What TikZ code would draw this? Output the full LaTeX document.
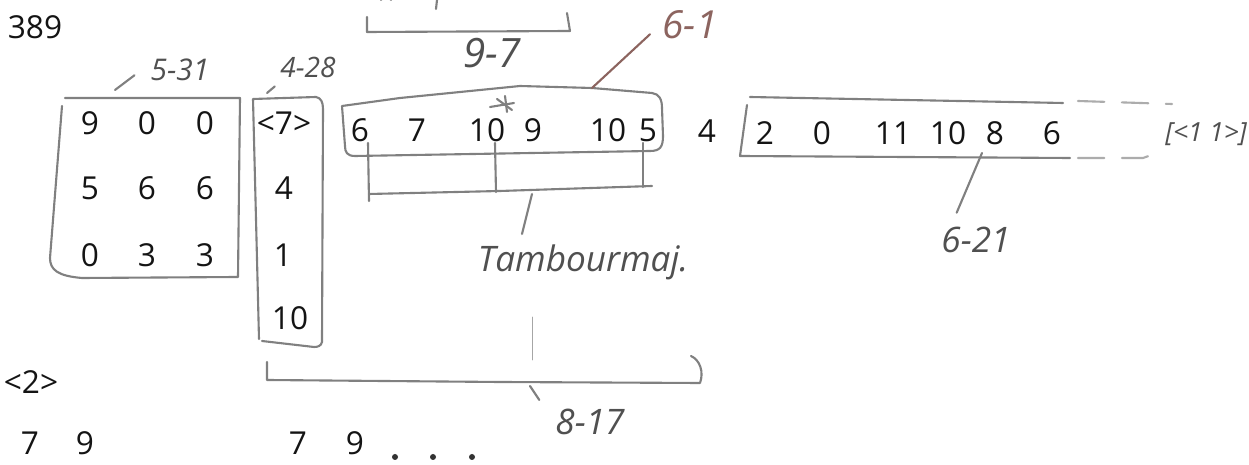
\documentclass[tikz,border=0pt]{standalone}
\usepackage{fontspec}
\setmainfont{Open Sans}
\definecolor{pencil}{RGB}{128,128,128}
\definecolor{lead}{RGB}{80,80,80}
\definecolor{rust}{RGB}{140,100,95}

\begin{document}
\begin{tikzpicture}[x=0.02cm, y=-0.02cm,
  typed/.style={font=\fontsize{18}{20}\selectfont, text=black!92, inner sep=0pt},
  hand/.style={font=\fontsize{20}{24}\selectfont\itshape, text=lead, inner sep=1pt},
  pencil/.style={draw=pencil, line width=1.2pt, line cap=round, line join=round}]
  % page area
  \useasboundingbox (0,0) rectangle (1249,465);
  \fill[white] (0,0) rectangle (1249,465);

  % page number
  \node[typed] (page) at (35,27) {389};

  % matrix box (5-31)
  \node[typed] (m11) at (90,123) {9};
  \node[typed] (m12) at (147,123) {0};
  \node[typed] (m13) at (205,123) {0};
  \node[typed] (m21) at (90,188) {5};
  \node[typed] (m22) at (147,188) {6};
  \node[typed] (m23) at (205,188) {6};
  \node[typed] (m31) at (90,255) {0};
  \node[typed] (m32) at (147,255) {3};
  \node[typed] (m33) at (205,255) {3};
  \draw[pencil] (65,98) -- (240,98) -- (238,277) -- (82,278)
    .. controls (58,276) and (50,270) .. (50,258) -- (62,106);

  % column box (4-28)
  \node[typed] (c1) at (284,123) {<7>};
  \node[typed] (c2) at (284,188) {4};
  \node[typed] (c3) at (283,255) {1};
  \node[typed] (c4) at (290,318) {10};
  \draw[pencil] (259,339) -- (253,99) -- (316,97)
    .. controls (321,98) and (323,102) .. (323,109) -- (322,342)
    .. controls (321,346) and (318,347) .. (314,347) -- (262,341);

  % row box (6-1)
  \node[typed] (r1) at (360,130) {6};
  \node[typed] (r2) at (417,130) {7};
  \node[typed] (r3) at (487,130) {10};
  \node[typed] (r4) at (533,130) {9};
  \node[typed] (r5) at (608,130) {10};
  \node[typed] (r6) at (648,130) {5};
  \node[typed] (r7) at (707,131) {4};
  \draw[pencil] (342,106) -- (400,98) -- (520,86) -- (592,88) -- (652,93)
    .. controls (659,94) and (662,99) .. (662,108) -- (663,136)
    .. controls (663,147) and (660,151) .. (650,151) -- (355,156)
    .. controls (347,156) and (345,152) .. (345,146) -- cycle;
  % star
  \draw[pencil] (490,107) -- (514,103);
  \draw[pencil] (505,96) -- (507,112);
  \draw[pencil] (497,99) -- (512,110);

  % bracket under the row
  \draw[pencil] (368,143) -- (369,201);
  \draw[pencil] (495,143) -- (496,192);
  \draw[pencil] (643,143) -- (643,187);
  \draw[pencil] (369,194) -- (500,191) -- (652,186);
  \coordinate (tb) at (532,194);
  \coordinate (tt) at (522,234);
  \draw[pencil] (tb) -- (tt);
  \node[hand] (tamb) at (583,262) {Tambourmaj.};
  \draw[pencil, thin, draw=pencil!70] (532,317) -- (532,360);

  % right box (6-21)
  \node[typed] (s1) at (765,133) {2};
  \node[typed] (s2) at (822,133) {0};
  \node[typed] (s3) at (893,133) {11};
  \node[typed] (s4) at (948,133) {10};
  \node[typed] (s5) at (995,133) {8};
  \node[typed] (s6) at (1052,133) {6};
  \draw[pencil] (750,97) -- (1063,103);
  \draw[pencil] (747,105) -- (740,156) -- (1070,158);
  \draw[pencil, draw=pencil!65, dash pattern=on 15pt off 10pt]
    (1078,101) -- (1172,104);
  \draw[pencil, draw=pencil!65, dash pattern=on 15pt off 10pt]
    (1078,158) -- (1143,158) -- (1160,152);
  \node[hand, font=\fontsize{15}{18}\selectfont\itshape] (end) at (1206,134) {[<1 1>]};

  % big bracket
  \draw[pencil] (267,362) -- (267,380) -- (500,382) -- (700,383)
    .. controls (704,372) and (700,360) .. (691,356);
  \coordinate (bk) at (530,386);

  % top bracket, cut off
  \draw[pencil] (391,0) arc (0:-180:5) ;
  \draw[pencil] (437,0) -- (436,9);
  \draw[pencil] (367,17) -- (367,32) -- (570,31) -- (567,13);

  % labels with leaders
  \node[hand, font=\fontsize{23}{26}\selectfont\itshape] (l97) at (492,53) {9-7};
  \node[hand, font=\fontsize{17}{20}\selectfont\itshape] (l531) at (180,70) {5-31};
  \coordinate (k531) at (115,90);
  \draw[pencil] (k531) -- ([xshift=-8pt,yshift=-3pt]l531.west);
  \node[hand, font=\fontsize{16}{20}\selectfont\itshape] (l428) at (308,67) {4-28};
  \coordinate (k428) at (267,93);
  \draw[pencil] (k428) -- ([xshift=-2pt,yshift=-4pt]l428.south west);
  \node[hand, font=\fontsize{22}{26}\selectfont\itshape, text=rust] (l61) at (690,25) {6-1};
  \coordinate (k61) at (592,88);
  \draw[pencil, draw=rust] (k61) -- ([xshift=-6pt,yshift=4pt]l61.south west);
  \node[hand] (l621) at (976,240) {6-21};
  \coordinate (k621) at (982,153);
  \draw[pencil] (k621) -- ([xshift=-11pt,yshift=7pt]l621.north);
  \node[hand] (l817) at (590,422) {8-17};
  \draw[pencil] (bk) -- ([xshift=-8pt,yshift=4pt]l817.north west);

  % bottom lines
  \node[typed] (t2) at (31,382) {<2>};
  \node[typed] (b1) at (30,443) {7};
  \node[typed] (b2) at (85,443) {9};
  \node[typed] (b3) at (298,443) {7};
  \node[typed] (b4) at (355,443) {9};
  \fill[black!80] (395,457) circle (3) (433,457) circle (3) (472,457) circle (3);
\end{tikzpicture}
\end{document}
